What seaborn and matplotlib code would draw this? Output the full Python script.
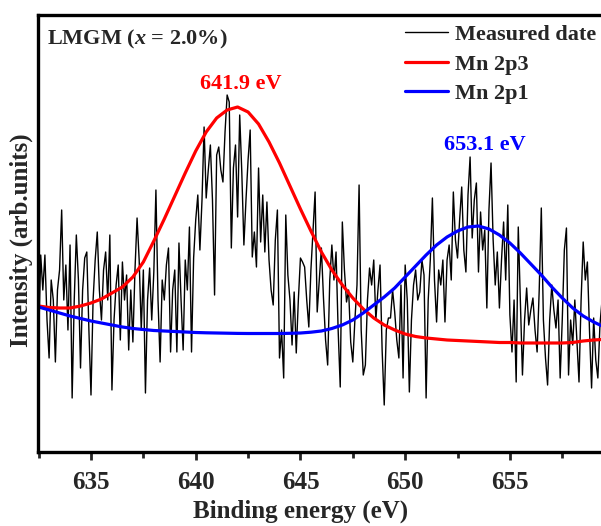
import numpy as np
import pandas as pd
import seaborn as sns
import matplotlib.pyplot as plt

# Mn 2p XPS spectrum (arb. units)
energy_start = 632.5
energy_step = 0.1
measured = [
    112, 197, 162, 197, 132, 94,
    172, 152, 90, 162, 182, 242, 152, 187, 122, 207,
    54, 152, 217, 172, 84, 162, 194, 200, 122, 57,
    152, 192, 220, 162, 132, 182, 200, 152, 217, 62,
    132, 167, 187, 112, 190, 152, 177, 102, 162, 110,
    182, 234, 192, 122, 182, 59, 152, 184, 132, 180,
    262, 152, 90, 172, 152, 187, 204, 100, 162, 182,
    100, 209, 152, 102, 192, 162, 225, 100, 194, 232,
    257, 202, 252, 325, 254, 282, 307, 252, 157, 297,
    305, 282, 270, 320, 357, 350, 204, 284, 307, 235,
    337, 280, 207, 252, 292, 322, 195, 220, 185, 284,
    210, 257, 200, 250, 192, 162, 147, 212, 242, 94,
    122, 74, 237, 177, 152, 107, 160, 99, 152, 194,
    190, 185, 152, 125, 182, 222, 260, 140, 172, 204,
    154, 112, 87, 172, 207, 172, 200, 122, 65, 230,
    182, 150, 162, 110, 90, 132, 167, 267, 122, 77,
    87, 152, 184, 167, 192, 132, 162, 187, 102, 47,
    122, 134, 134, 162, 140, 112, 94, 167, 74, 187,
    152, 60, 132, 167, 182, 152, 160, 192, 177, 54,
    152, 192, 254, 172, 130, 182, 167, 192, 130, 192,
    207, 172, 260, 212, 194, 232, 265, 202, 180, 257,
    295, 214, 252, 269, 180, 240, 202, 222, 144, 242,
    289, 212, 167, 200, 144, 192, 230, 172, 247, 137,
    100, 152, 70, 225, 152, 77, 132, 164, 127, 142,
    154, 122, 100, 162, 244, 132, 94, 67, 132, 167,
    142, 124, 152, 74, 132, 202, 224, 77, 132, 107,
    152, 112, 70, 152, 210, 172, 190, 122, 64, 134,
    92, 74, 127, 152,
]

fit_energy = [632.5, 633.0, 633.5, 634.0, 634.5, 635.0, 635.5, 636.0, 636.5, 637.0,
              637.5, 638.0, 638.5, 639.0, 639.5, 640.0, 640.5, 641.0, 641.5, 642.0,
              642.5, 643.0, 643.5, 644.0, 644.5, 645.0, 645.5, 646.0, 646.5, 647.0,
              647.5, 648.0, 648.5, 649.0, 649.5, 650.0, 650.5, 651.0, 651.5, 652.0,
              652.5, 653.0, 653.5, 654.0, 654.5, 655.0, 655.5, 656.0, 656.5, 657.0,
              657.5, 658.0, 658.5, 659.0, 659.4]
mn_2p3 = [146, 144.5, 144, 144, 146, 149, 153, 159, 165, 175,
          190, 211, 233, 256, 279, 301, 320, 334, 342, 345,
          340, 328, 310, 289, 266, 243, 221, 200, 182, 167,
          154, 143, 134, 127, 122, 118, 115.5, 114, 113, 112,
          111.5, 111, 110.5, 110, 109.5, 109.5, 109, 109, 109, 109,
          109, 109.5, 111, 112, 112.5]
mn_2p1 = [145, 142, 139, 136, 133.5, 131, 129, 127, 125, 123.5,
          122.5, 121.5, 121, 120.5, 120, 119.5, 119.2, 119, 118.8, 118.6,
          118.5, 118.5, 118.5, 118.5, 118.7, 119, 119.8, 121, 123.5, 127,
          132, 139, 147, 155, 164, 175, 186, 197, 207, 215,
          221, 225, 226, 223, 217, 209, 199, 188, 177, 165,
          154, 144, 136, 130, 126]

energy = np.round(energy_start + energy_step * np.arange(len(measured)), 1)
df_meas = pd.DataFrame({"Energy": energy, "Intensity": measured})
df_fit = pd.DataFrame({"Energy": fit_energy, "Mn 2p3": mn_2p3, "Mn 2p1": mn_2p1})

sns.set_style("white")
plt.rcParams['font.family'] = ['Liberation Serif', 'DejaVu Serif']
plt.rcParams['font.weight'] = 'bold'
plt.rcParams['mathtext.fontset'] = 'custom'
plt.rcParams['mathtext.it'] = 'Liberation Serif:italic:bold'
plt.rcParams['mathtext.rm'] = 'Liberation Serif:bold'

fig = plt.figure(figsize=(6.01, 5.26), dpi=100)
ax = fig.add_axes([38 / 601, 74 / 526, 563 / 601, 437 / 526])

sns.lineplot(data=df_meas, x="Energy", y="Intensity", color="black", linewidth=1.0,
             label="Measured date", sort=False, estimator=None, ax=ax)
sns.lineplot(data=df_fit, x="Energy", y="Mn 2p3", color="#ff0000", linewidth=2.3,
             label="Mn 2p3", sort=False, estimator=None, ax=ax)
sns.lineplot(data=df_fit, x="Energy", y="Mn 2p1", color="#0000ff", linewidth=2.3,
             label="Mn 2p1", sort=False, estimator=None, ax=ax)

ax.set_xlim(632.47, 659.35)
ax.set_ylim(0, 437)
ax.set_xticks([635, 640, 645, 650, 655])
ax.set_xticks([632.5, 637.5, 642.5, 647.5, 652.5, 657.5], minor=True)
ax.set_yticks([])
ax.tick_params(axis='x', which='major', direction='out', length=6, width=2,
               labelsize=18, pad=8, bottom=True)
ax.tick_params(axis='x', which='minor', direction='out', length=4, width=2, bottom=True)
for lab in ax.get_xticklabels():
    lab.set_fontweight('bold')

for side in ['left', 'top', 'bottom']:
    ax.spines[side].set_linewidth(2.4)
    ax.spines[side].set_color('black')
ax.spines['right'].set_visible(False)

ax.set_xlabel("Binding energy (eV)", fontsize=18, fontweight='bold')
ax.set_ylabel("Intensity (arb.units)", fontsize=18, fontweight='bold')
ax.xaxis.set_label_coords(0.467, -0.108)
ax.yaxis.set_label_coords(-0.008, 0.485)

ax.text(0.016, 0.943, r"LMGM ($x$ = 2.0%)", transform=ax.transAxes,
        fontsize=16, fontweight='bold', ha='left', va='center')
ax.text(642.15, 368, "641.9 eV", color="#ff0000", fontsize=16, fontweight='bold',
        ha='center', va='center')
ax.text(653.8, 307, "653.1 eV", color="#0000ff", fontsize=16, fontweight='bold',
        ha='center', va='center')

leg = ax.legend(loc='upper left', bbox_to_anchor=(0.652, 0.978), frameon=False,
                fontsize=16, handlelength=1.95, handletextpad=0.3,
                labelspacing=0.4, borderpad=0, borderaxespad=0)
for t in leg.get_texts():
    t.set_fontweight('bold')

fig.savefig("out.png", dpi=100)
